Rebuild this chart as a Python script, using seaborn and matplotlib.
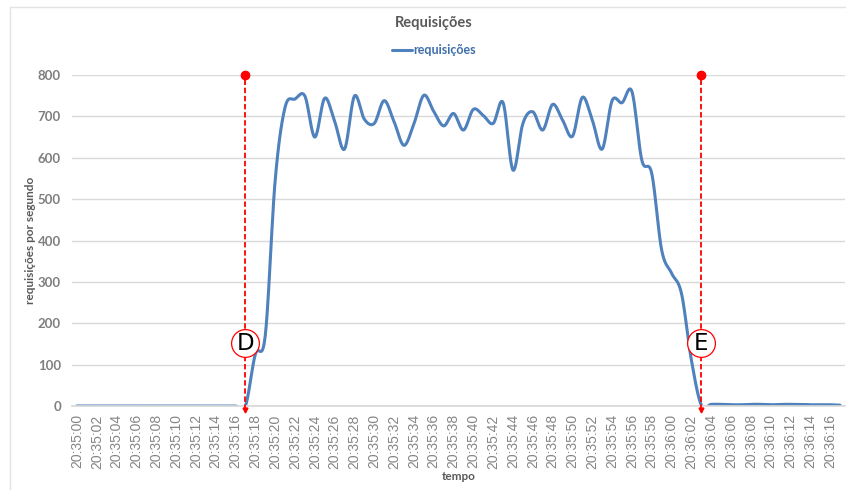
import numpy as np
import pandas as pd
import matplotlib
matplotlib.use("Agg")
import matplotlib.pyplot as plt
from matplotlib.lines import Line2D
import seaborn as sns

# Requests per second, one sample per second from 20:35:00 to 20:36:17
times = [f"20:{35 + (s // 60)}:{s % 60:02d}" for s in range(78)]
requests = (
    [0] * 17 +                                   # 20:35:00 .. 20:35:16
    [0, 125, 170, 545, 722, 742, 749, 650, 744,   # 20:35:17 .. 20:35:25
     688, 621, 749, 693, 683, 738, 687, 630,      # 20:35:26 .. 20:35:33
     682, 751, 712, 677, 707, 667, 717, 702,      # 20:35:34 .. 20:35:41
     683, 733, 570, 683, 711, 667, 729, 691,      # 20:35:42 .. 20:35:49
     652, 746, 691, 621, 738, 733, 760, 594,      # 20:35:50 .. 20:35:57
     562, 377, 321, 272, 111, 2,                  # 20:35:58 .. 20:36:03
     4, 4, 3, 3, 4, 4, 3, 4, 4, 4, 3, 3, 3, 2]    # 20:36:04 .. 20:36:17
)
tick_labels = times[::2]
marker_times = ["20:35:17", "20:36:03"]
marker_letters = ["D", "E"]
marker_level = 152

title = "Requisições"
series_name = "requisições"
x_title = "tempo"
y_title = "requisições por segundo"
y_ticks = [0, 100, 200, 300, 400, 500, 600, 700, 800]


def smooth_curve(y, steps=20):
    """Cardinal (Catmull-Rom) Bezier smoothing through every sample."""
    y = np.asarray(y, dtype=float)
    n = len(y)
    xs, ys = [], []
    for i in range(n - 1):
        p0 = y[max(i - 1, 0)]
        p1 = y[i]
        p2 = y[i + 1]
        p3 = y[min(i + 2, n - 1)]
        c1 = p1 + (p2 - p0) / 6.0
        c2 = p2 - (p3 - p1) / 6.0
        t = np.linspace(0, 1, steps, endpoint=(i == n - 2))
        b = ((1 - t) ** 3 * p1 + 3 * (1 - t) ** 2 * t * c1
             + 3 * (1 - t) * t ** 2 * c2 + t ** 3 * p2)
        xs.append(i + t)
        ys.append(b)
    return np.concatenate(xs), np.concatenate(ys)


sns.set_theme(style="white")
plt.rcParams["font.family"] = ["Lato", "DejaVu Sans"]

W, H = 846, 490
fig = plt.figure(figsize=(W / 100, H / 100), dpi=100)
ax = fig.add_axes([72 / W, 1 - 406 / H, (845 - 72) / W, (406 - 75) / H])

sx, sy = smooth_curve(requests)
curve = pd.DataFrame({"pos": sx, "value": sy})
line_color = "#4f81bd"
sns.lineplot(data=curve, x="pos", y="value", ax=ax, color=line_color,
             linewidth=2.2, legend=False)

ax.set_xlim(-0.5, len(times) - 0.5)
ax.set_ylim(0, 800)
ax.set_yticks(y_ticks)
ax.set_yticklabels([str(v) for v in y_ticks], fontsize=9.5, color="#7f7f7f",
                   fontweight="bold")
tick_pos = [times.index(t) for t in tick_labels]
ax.set_xticks(tick_pos)
ax.set_xticklabels(tick_labels, rotation=90, fontsize=10, color="#858585",
                   family="Liberation Sans")
ax.tick_params(axis="x", length=0, pad=6)
ax.tick_params(axis="y", length=0, pad=8)
ax.grid(axis="y", color="#d9d9d9", linewidth=1)
ax.set_axisbelow(True)
for side in ["top", "right", "left"]:
    ax.spines[side].set_visible(False)
ax.spines["bottom"].set_color("#d9d9d9")
ax.set_xlabel(x_title, fontsize=8.5, fontweight="bold", color="#595959",
              labelpad=2)
ax.set_ylabel(y_title, fontsize=8.5, fontweight="bold", color="#595959",
              labelpad=1)

# Vertical markers with their letters
for t, letter in zip(marker_times, marker_letters):
    xpos = times.index(t)
    ax.plot([xpos, xpos], [-10, 800], color="red", linestyle=(0, (3, 1.5)),
            linewidth=1.3, clip_on=False, zorder=4)
    ax.plot([xpos], [800], marker="o", color="red", markersize=6,
            clip_on=False, zorder=5)
    ax.plot([xpos], [-9], marker="v", color="red", markersize=3.5,
            clip_on=False, zorder=5)
    ax.scatter([xpos], [marker_level], s=400, facecolor="white",
               edgecolor="red", linewidth=0.9, zorder=6)
    ax.text(xpos, marker_level, letter, ha="center", va="center",
            fontsize=16.5, color="black", family="DejaVu Sans", zorder=7)

# Chart title and legend
fig.text(434 / W, 1 - 23 / H, title, ha="center", va="center",
         fontsize=10.5, fontweight="bold", color="#595959")
handle = Line2D([], [], color=line_color, linewidth=2.2)
fig.legend([handle], [series_name], loc="center", bbox_to_anchor=(434 / W, 1 - 50 / H),
           frameon=False, handlelength=1.6, handletextpad=0.1,
           prop={"weight": "bold", "size": 9}, labelcolor="#3f6eab")

# Chart frame (left and top edges)
fig.add_artist(Line2D([10 / W, 10 / W], [0, 1 - 7 / H], transform=fig.transFigure,
                      color="#e3e3e3", linewidth=1))
fig.add_artist(Line2D([10 / W, 1], [1 - 7 / H, 1 - 7 / H], transform=fig.transFigure,
                      color="#e3e3e3", linewidth=1))

fig.savefig("out.png", dpi=100)
